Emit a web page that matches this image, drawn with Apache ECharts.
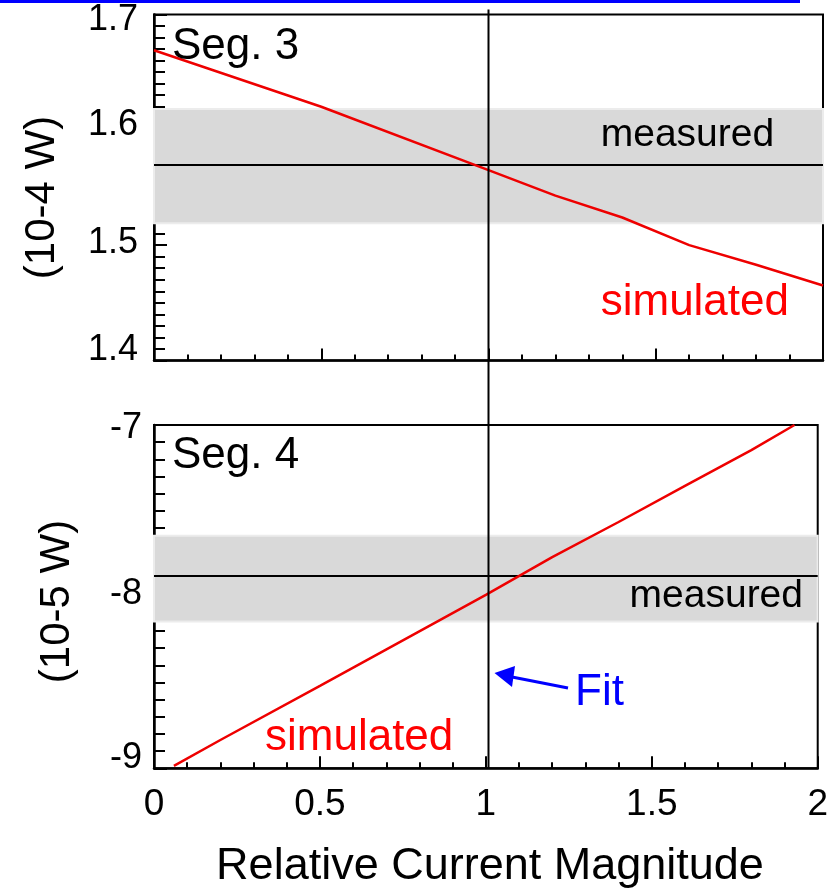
<!DOCTYPE html>
<html>
<head>
<meta charset="utf-8">
<script src="https://cdn.jsdelivr.net/npm/echarts@6/dist/echarts.min.js"></script>
<style>
  html, body { margin: 0; padding: 0; background: #fff; }
  #chart { width: 831px; height: 890px; }
</style>
</head>
<body>
<div id="chart"></div>
<script>
const FONT = '"Liberation Sans", Arial, Helvetica, sans-serif';

// Segment 3: power in units of 1e-4 W vs relative current magnitude
const seg3X = [0, 0.5, 1.0, 1.2, 1.4, 1.6, 1.8, 2.0];
const seg3Sim = [1.669, 1.620, 1.565, 1.543, 1.524, 1.500, 1.483, 1.465];
const seg3Measured = 1.571;
const seg3Band = [1.519, 1.618];

// Segment 4: power in units of 1e-5 W
const seg4X = [0.06, 0.2, 0.5, 1.0, 1.2, 1.4, 1.6, 1.8, 1.93];
const seg4Sim = [-8.986, -8.835, -8.52, -7.99, -7.77, -7.565, -7.355, -7.146, -7.0];
const seg4Measured = -7.878;
const seg4Band = [-8.145, -7.645];

// Fitted current magnitude
const fitX = 1;

// Axis ranges
const xRange = [0, 2];
const seg3YRange = [1.4, 1.7];
const seg4YRange = [-9, -7];

const BLACK = '#000';
const RED = '#ee0000';
const BLUE = '#0000ff';

// small vertical nudges of individual tick labels (px, positive = down)
const labelNudge = { '1.7': 6, '1.6': -5, '1.5': -2, '1.4': -10, '-7': 3, '-8': -3, '-9': -10 };

function nudged(text) {
  const d = labelNudge[text] || 0;
  const key = d >= 0 ? 'dn' + d : 'up' + (-d);
  return '{' + key + '|' + text + '}';
}
function nudgeRich() {
  const rich = {};
  Object.values(labelNudge).forEach(d => {
    const key = d >= 0 ? 'dn' + d : 'up' + (-d);
    rich[key] = {
      fontFamily: FONT, fontSize: 36, color: BLACK,
      padding: d >= 0 ? [2 * d, 0, 0, 0] : [0, 0, -2 * d, 0]
    };
  });
  return rich;
}

function xAxisCfg(gridIndex, showLabels) {
  return {
    type: 'value', gridIndex: gridIndex,
    min: xRange[0], max: xRange[1], interval: 0.5,
    axisLine: { onZero: false, lineStyle: { color: BLACK, width: 2.5 } },
    axisTick: { inside: true, length: 12, lineStyle: { color: BLACK, width: 2 } },
    minorTick: { show: true, splitNumber: 5, length: 6, lineStyle: { color: BLACK, width: 2 } },
    splitLine: { show: false },
    axisLabel: { show: showLabels, fontFamily: FONT, fontSize: 37, color: BLACK, margin: 18 }
  };
}

function yAxisCfg(gridIndex, range, interval, split, decimals, margin) {
  return {
    type: 'value', gridIndex: gridIndex,
    min: range[0], max: range[1], interval: interval,
    axisLine: { onZero: false, lineStyle: { color: BLACK, width: 2.5 } },
    axisTick: { inside: true, length: 13, lineStyle: { color: BLACK, width: 2 } },
    minorTick: { show: true, splitNumber: split, length: 11, lineStyle: { color: BLACK, width: 2 } },
    splitLine: { show: false },
    axisLabel: {
      fontFamily: FONT, fontSize: 36, color: BLACK, margin: margin,
      formatter: v => nudged(v.toFixed(decimals)),
      rich: nudgeRich()
    }
  };
}

function segmentSeries(idx, xs, ys, measured, band) {
  return {
    type: 'line', xAxisIndex: idx, yAxisIndex: idx,
    data: xs.map((x, i) => [x, ys[i]]),
    symbol: 'none', smooth: false,
    lineStyle: { color: RED, width: 2.5 },
    z: 5,
    markArea: {
      silent: true,
      itemStyle: { color: '#d9d9d9', borderColor: '#ececec', borderWidth: 2 },
      data: [[{ yAxis: band[0] }, { yAxis: band[1] }]]
    },
    markLine: {
      silent: true, symbol: 'none',
      label: { show: false },
      lineStyle: { color: BLACK, width: 2, type: 'solid' },
      data: [{ yAxis: measured }]
    }
  };
}

const chart = echarts.init(document.getElementById('chart'), null, { renderer: 'canvas' });

chart.setOption({
  animation: false,
  backgroundColor: '#fff',
  grid: [
    { left: 154, top: 14.5, width: 669, height: 346, show: true, borderColor: BLACK, borderWidth: 2, backgroundColor: 'transparent' },
    { left: 154, top: 425, width: 669, height: 343.3, show: true, borderColor: BLACK, borderWidth: 2, backgroundColor: 'transparent' }
  ],
  xAxis: [xAxisCfg(0, false), xAxisCfg(1, true)],
  yAxis: [
    yAxisCfg(0, seg3YRange, 0.1, 10, 1, 16),
    yAxisCfg(1, seg4YRange, 1, 10, 0, 12)
  ],
  series: [
    segmentSeries(0, seg3X, seg3Sim, seg3Measured, seg3Band),
    segmentSeries(1, seg4X, seg4Sim, seg4Measured, seg4Band)
  ]
});

// Overlay: fit line across both panels, arrow, annotations and titles
const fitPx = chart.convertToPixel({ xAxisIndex: 0 }, fitX);
const topY = chart.convertToPixel({ yAxisIndex: 0 }, seg3YRange[1]);
const botY = chart.convertToPixel({ yAxisIndex: 1 }, seg4YRange[0]);

function label(text, x, y, size, color, align) {
  return {
    type: 'text', x: x, y: y, z: 20,
    style: { text: text, fontFamily: FONT, fontSize: size, fill: color, align: align || 'left', verticalAlign: 'middle' }
  };
}

chart.setOption({
  graphic: [
    { type: 'rect', shape: { x: 0, y: 0, width: 800, height: 3 }, style: { fill: BLUE }, z: 20 },
    { type: 'line', shape: { x1: fitPx, y1: topY - 5, x2: fitPx, y2: botY }, style: { stroke: BLACK, lineWidth: 2 }, z: 15 },
    // arrow pointing at the fit line
    { type: 'line', shape: { x1: 568, y1: 688, x2: 512, y2: 677 }, style: { stroke: BLUE, lineWidth: 3 }, z: 20 },
    { type: 'polygon', shape: { points: [[fitPx + 6, 673], [515, 666], [512, 687]] }, style: { fill: BLUE }, z: 20 },
    label('Seg. 3', 172, 46.8, 44, BLACK),
    label('Seg. 4', 172, 455.5, 44, BLACK),
    label('measured', 600.7, 134.8, 39, BLACK),
    label('measured', 803, 596.5, 39, BLACK, 'right'),
    label('simulated', 600.7, 302.8, 44, '#ff0000'),
    label('simulated', 265, 737.8, 44, '#ff0000'),
    label('Fit', 575, 692.8, 44, BLUE),
    label('Relative Current Magnitude', 490, 866.4, 45, BLACK, 'center'),
    {
      type: 'text', x: 42, y: 197.5, rotation: Math.PI / 2, z: 20,
      style: { text: '(10-4 W)', fontFamily: FONT, fontSize: 42, fill: BLACK, align: 'center', verticalAlign: 'middle' }
    },
    {
      type: 'text', x: 57, y: 601.5, rotation: Math.PI / 2, z: 20,
      style: { text: '(10-5 W)', fontFamily: FONT, fontSize: 42, fill: BLACK, align: 'center', verticalAlign: 'middle' }
    }
  ]
});
</script>
</body>
</html>
